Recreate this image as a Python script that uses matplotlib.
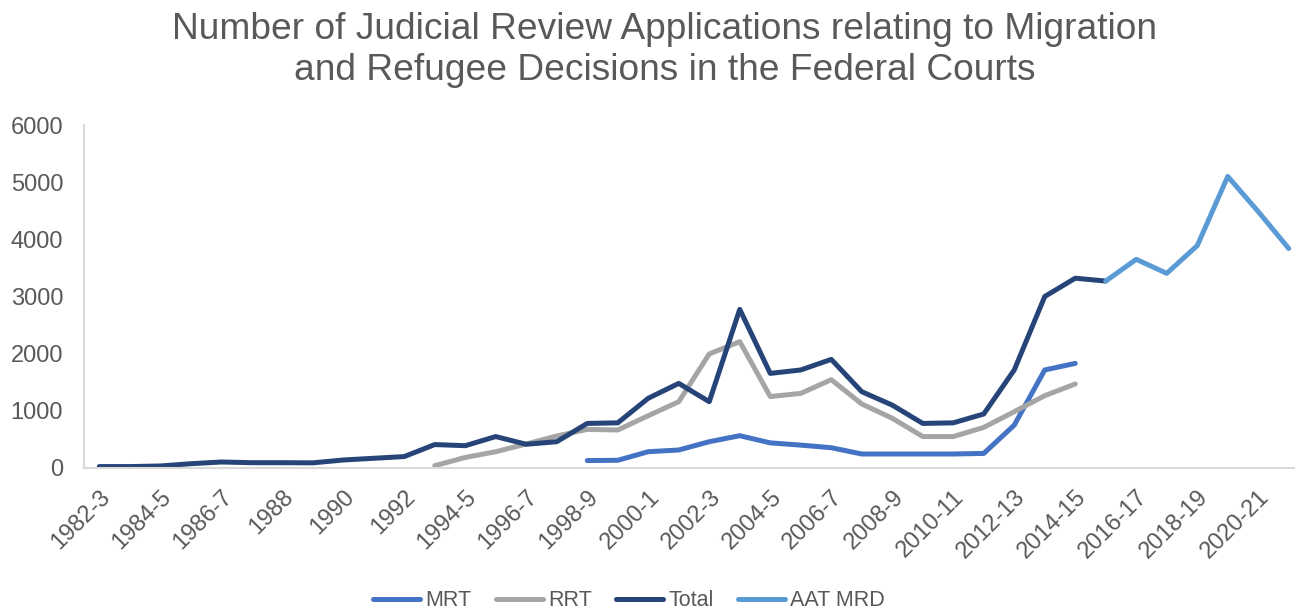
import numpy as np
import matplotlib
matplotlib.use('Agg')
import matplotlib.pyplot as plt

plt.rcParams['font.family'] = ['Liberation Sans', 'DejaVu Sans']

# Financial years on the category axis
years = ['1982-3', '1983-4', '1984-5', '1985-6', '1986-7', '1987', '1988', '1989',
         '1990', '1991', '1992', '1993', '1994-5', '1995-6', '1996-7', '1997-8',
         '1998-9', '1999-00', '2000-1', '2001-2', '2002-3', '2003-4', '2004-5',
         '2005-6', '2006-7', '2007-8', '2008-9', '2009-10', '2010-11', '2011-12',
         '2012-13', '2013-14', '2014-15', '2015-16', '2016-17', '2017-18',
         '2018-19', '2019-20', '2020-21', '2021-22']

nan = np.nan

# Migration Review Tribunal (1998-9 to 2014-15)
mrt = [nan] * 16 + [130, 135, 285, 315, 460, 565, 440, 400, 355, 245, 245, 245,
                    245, 255, 750, 1715, 1830] + [nan] * 7

# Refugee Review Tribunal (1993 to 2014-15)
rrt = [nan] * 11 + [40, 185, 285, 420, 560, 675, 665, 915, 1160, 1995, 2210,
                    1250, 1305, 1545, 1120, 870, 550, 550, 710, 985, 1265,
                    1470] + [nan] * 7

# Total applications (until 2015-16)
total = [25, 25, 35, 75, 105, 93, 93, 90, 140, 170, 200, 410, 390, 550, 415,
         460, 780, 790, 1220, 1480, 1160, 2775, 1655, 1715, 1900, 1335, 1100,
         780, 790, 945, 1715, 3000, 3320, 3270] + [nan] * 6

# AAT Migration and Refugee Division (from 2015-16)
aat_mrd = [nan] * 33 + [3270, 3650, 3405, 3890, 5100, 4485, 3840]

series = [('MRT', mrt, '#4472C4'),
          ('RRT', rrt, '#A5A5A5'),
          ('Total', total, '#264478'),
          ('AAT MRD', aat_mrd, '#5B9BD5')]

TEXT = '#595959'
W, H = 1295, 614

fig = plt.figure(figsize=(W / 100, H / 100), dpi=100)
# plot area: left edge at x=84px, 0 at y=468px, 6000 at y=125px
ax = fig.add_axes([84 / W, 1 - 468 / H, (1304 - 84) / W, (468 - 125) / H])

x = np.arange(len(years))
for name, vals, col in series:
    ax.plot(x, vals, color=col, lw=3.6, label=name,
            solid_capstyle='round', solid_joinstyle='round')

ax.set_xlim(-0.5, len(years) - 0.5)
ax.set_ylim(0, 6000)
ax.set_yticks(range(0, 6001, 1000))
ax.set_xticks(x[::2])
ax.set_xticklabels(years[::2], rotation=45, ha='right', rotation_mode='anchor')
ax.tick_params(axis='both', length=0, labelsize=17, colors=TEXT)
ax.tick_params(axis='y', pad=15)
ax.tick_params(axis='x', pad=13)

for side in ['top', 'right']:
    ax.spines[side].set_visible(False)
for side in ['left', 'bottom']:
    ax.spines[side].set_color('#D9D9D9')
    ax.spines[side].set_linewidth(1.5)

fig.text(665 / W, 1 - 12 / H,
         'Number of Judicial Review Applications relating to Migration\n'
         'and Refugee Decisions in the Federal Courts',
         ha='center', va='top', fontsize=26.7, color=TEXT, linespacing=1.22)

leg = fig.legend(loc='center', bbox_to_anchor=(629 / W, 1 - 601 / H), ncol=4,
                 frameon=False, fontsize=15.5, handlelength=2.2,
                 handletextpad=0.25, columnspacing=1.1, borderaxespad=0)
for t in leg.get_texts():
    t.set_color(TEXT)

fig.savefig('out.png', dpi=100)
